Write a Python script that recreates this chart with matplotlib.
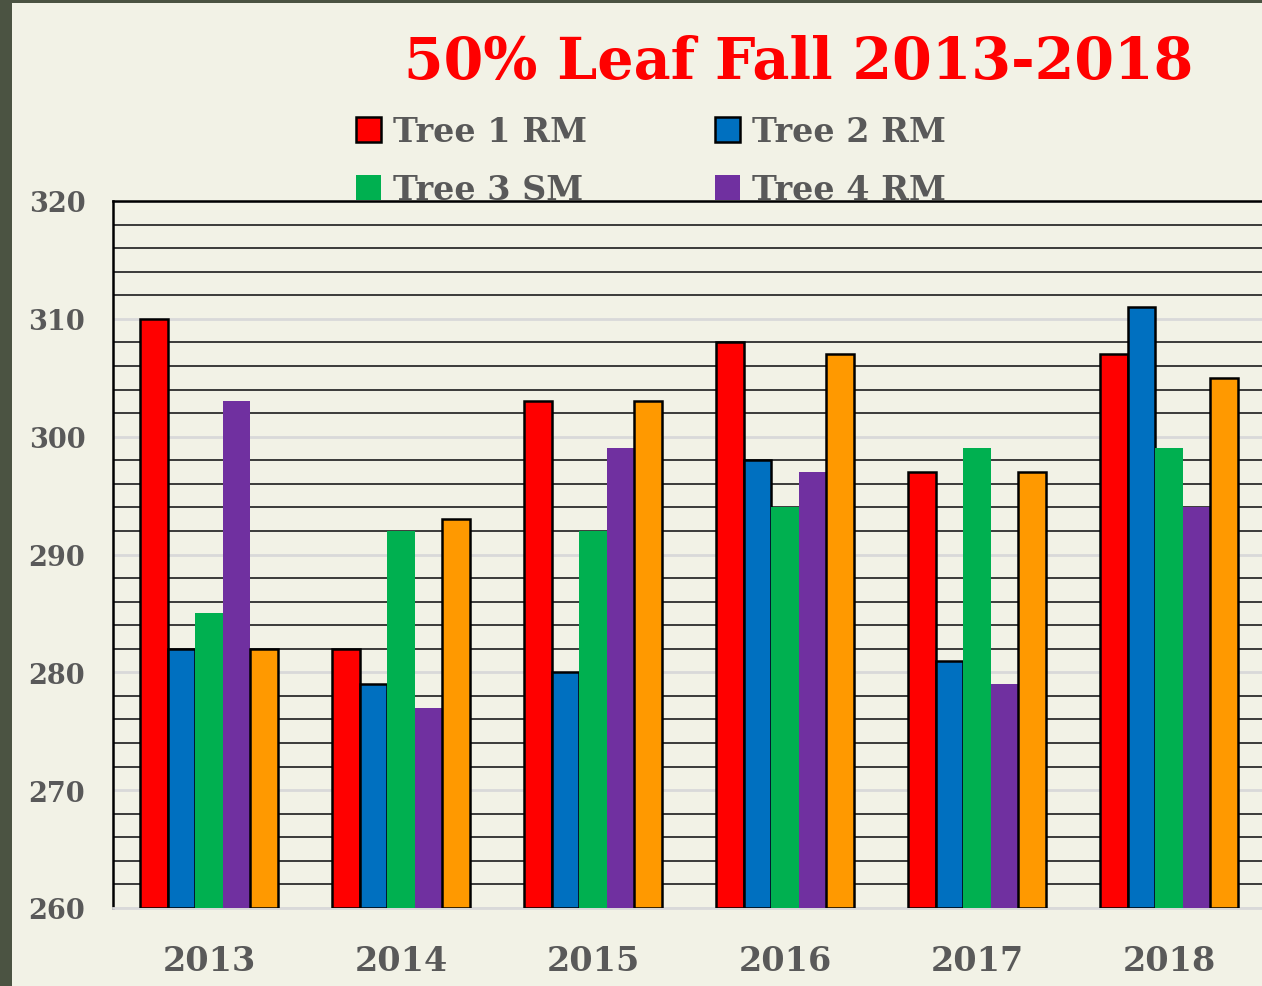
import matplotlib
matplotlib.use("Agg")
import matplotlib.pyplot as plt
from matplotlib.patches import Rectangle
from matplotlib.ticker import MultipleLocator
import numpy as np

years = ["2013", "2014", "2015", "2016", "2017", "2018"]
series_names = ["Tree 1 RM", "Tree 2 RM", "Tree 3 SM", "Tree 4 RM", "Tree 5"]
tree1 = [310, 282, 303, 308, 297, 307]
tree2 = [282, 279, 280, 298, 281, 311]
tree3 = [285, 292, 292, 294, 299, 299]
tree4 = [303, 277, 299, 297, 279, 294]
tree5 = [282, 293, 303, 307, 297, 305]
values = [tree1, tree2, tree3, tree4, tree5]
colors = ["#FF0000", "#0070C0", "#00B050", "#7030A0", "#FF9900"]
edged = [True, True, False, False, True]

FONT = "DejaVu Serif"
TXT = "#595959"
BG = "#F2F2E6"
DARK = "#4B5342"

fig = plt.figure(figsize=(12.62, 9.87), dpi=100)
fig.patch.set_facecolor(BG)
fig.patches.append(Rectangle((0, 0), 12 / 1262, 1, transform=fig.transFigure,
                             facecolor=DARK, edgecolor="none", zorder=-10))
fig.patches.append(Rectangle((0, 1 - 4 / 987), 1, 4 / 987, transform=fig.transFigure,
                             facecolor=DARK, edgecolor="none", zorder=-10))

ax = fig.add_axes([113 / 1262, 1 - 909 / 987, (1265 - 113) / 1262, (909 - 202) / 987])
ax.set_facecolor(BG)

x = np.arange(len(years))
w = 0.1436
handles = []
for i, (vals, c, e) in enumerate(zip(values, colors, edged)):
    h = ax.bar(x + (i - 2) * w, np.array(vals) - 260, bottom=260, width=w, color=c,
               edgecolor="black" if e else "none", linewidth=1.8 if e else 0, zorder=3)
    handles.append(h)

ax.set_xlim(-0.5, 5.5)
ax.set_ylim(260, 320)
ax.yaxis.set_major_locator(MultipleLocator(10))
ax.yaxis.set_minor_locator(MultipleLocator(2))
ax.grid(which="major", axis="y", color="#D9D9D9", linewidth=2.0, zorder=1)
ax.grid(which="minor", axis="y", color="#3A3A3A", linewidth=1.4, zorder=1)
ax.set_axisbelow(True)

ax.set_xticks(x)
ax.set_xticklabels(years)
ax.tick_params(axis="both", which="both", length=0)
ax.tick_params(axis="x", pad=26)
ax.tick_params(axis="y", pad=20)
for lab in ax.get_xticklabels():
    lab.set_fontfamily(FONT); lab.set_fontweight("bold"); lab.set_fontsize(24); lab.set_color(TXT)
for lab in ax.get_yticklabels():
    lab.set_fontfamily(FONT); lab.set_fontweight("bold"); lab.set_fontsize(19.5); lab.set_color(TXT)

ax.spines["right"].set_visible(False)
ax.spines["left"].set_color("black"); ax.spines["left"].set_linewidth(1.8)
ax.spines["top"].set_color("black"); ax.spines["top"].set_linewidth(1.8)
ax.spines["bottom"].set_color("#D9D9D9"); ax.spines["bottom"].set_linewidth(2.0)

fig.text(799 / 1262, 1 - 63 / 987, "50% Leaf Fall 2013-2018", ha="center", va="center",
         fontsize=41, fontweight="bold", fontfamily=FONT, color="#FF0000")

order = [0, 2, 1, 3]
leg = fig.legend([handles[i] for i in order], [series_names[i] for i in order], ncol=2,
                 loc="upper left", bbox_to_anchor=(326 / 1262, 1 - 86 / 987), frameon=False,
                 prop={"family": FONT, "weight": "bold", "size": 24},
                 handlelength=0.75, handleheight=0.75, handletextpad=0.35,
                 columnspacing=3.85, labelspacing=0.75)
for t in leg.get_texts():
    t.set_color(TXT)
leg.set_zorder(10)

fig.savefig("out.png", dpi=100, facecolor=fig.get_facecolor())
